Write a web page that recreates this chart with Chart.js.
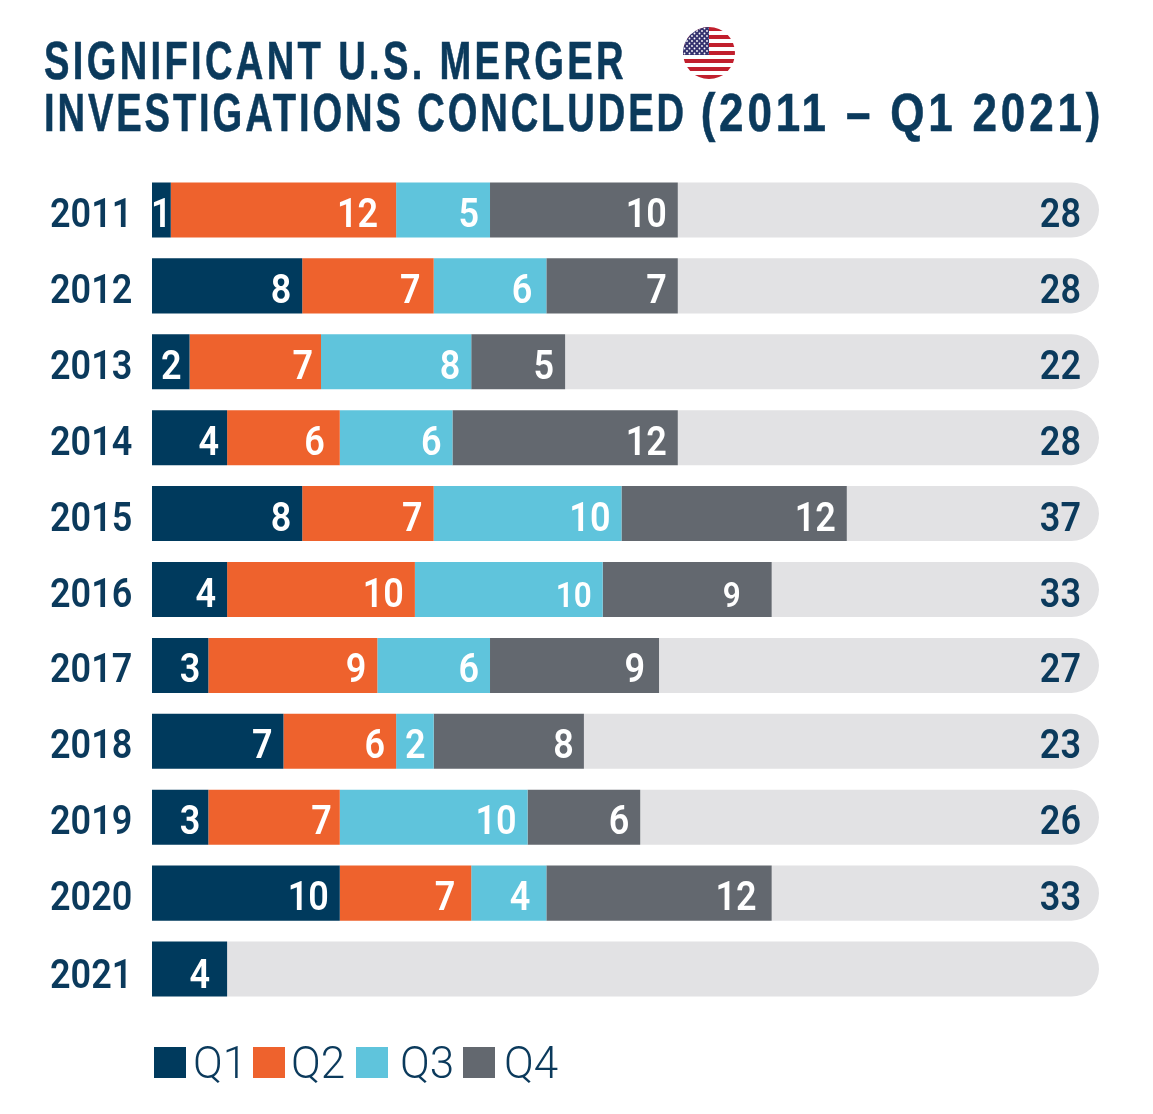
<!DOCTYPE html>
<html>
<head>
<meta charset="utf-8">
<title>Significant U.S. merger investigations concluded</title>
<script src="https://cdn.jsdelivr.net/npm/chart.js@4/dist/chart.umd.min.js"></script>
<style>
  html, body { margin: 0; padding: 0; background: #fff; }
  #page { position: relative; width: 1153px; height: 1114px; overflow: hidden; }
  #chart { position: absolute; left: 0; top: 0; }
  h1 {
    position: absolute; left: 44px; top: 35px; margin: 0;
    font: bold 53px/52px "Liberation Sans", sans-serif;
    letter-spacing: 4.6px; color: #0b3a5c; white-space: pre;
    -webkit-text-stroke: 0.6px #0b3a5c;
    transform: scaleX(0.72); transform-origin: 0 0;
  }
  h1 .tight { letter-spacing: 4px; }
  h1 .wide { display: inline-block; transform: scaleX(1.153); transform-origin: 0 0; }
  #flag { position: absolute; left: 683px; top: 27px; }
  #legend { position: absolute; left: 154px; top: 1040px; height: 44px; }
  #legend span { position: absolute; top: 1px; font: 300 44px/44px Roboto, sans-serif; color: #0b3a5c; white-space: nowrap; }
  #legend i { position: absolute; top: 7px; width: 32px; height: 31px; }
</style>
</head>
<body>
<div id="page">
  <canvas id="chart" width="1153" height="1114"></canvas>
  <h1>SIGNIFICANT U.S. MERGER
<span class="tight">INVESTIGATIONS CONCLUDED </span><span class="wide">(2011 – Q1 2021)</span></h1>
  <svg id="flag" width="52" height="52" viewBox="0 0 52 52">
    <defs>
      <clipPath id="disc"><circle cx="26" cy="26" r="26"/></clipPath>
      <pattern id="stars" width="5" height="5" patternUnits="userSpaceOnUse">
        <circle cx="1.5" cy="1.5" r="0.9" fill="#fff"/>
        <circle cx="4" cy="4" r="0.9" fill="#fff"/>
      </pattern>
    </defs>
    <g clip-path="url(#disc)">
      <rect width="52" height="52" fill="#fff"/>
      <g id="stripes" fill="#c11f2d"></g>
      <rect width="26" height="28" fill="#35336f"/>
      <rect width="26" height="28" fill="url(#stars)"/>
    </g>
  </svg>
  <div id="legend"></div>
</div>
<script>
const years = ['2011', '2012', '2013', '2014', '2015', '2016', '2017', '2018', '2019', '2020', '2021'];
const q1 = [1, 8, 2, 4, 8, 4, 3, 7, 3, 10, 4];
const q2 = [12, 7, 7, 6, 7, 10, 9, 6, 7, 7, null];
const q3 = [5, 6, 8, 6, 10, 10, 6, 2, 10, 4, null];
const q4 = [10, 7, 5, 12, 12, 9, 9, 8, 6, 12, null];
const totals = [28, 28, 22, 28, 37, 33, 27, 23, 26, 33, null];
const quarters = ['Q1', 'Q2', 'Q3', 'Q4'];
const quarterColors = ['#003a5d', '#ee622d', '#5fc4dc', '#63686f'];
const trackLength = 50.43;

const NAVY = '#0b3a5c';

// grey pill behind each row is whatever is left of the track
const remainder = years.map((_, i) =>
  trackLength - [q1, q2, q3, q4].reduce((sum, q) => sum + (q[i] || 0), 0));

// hand placement of a few labels, keyed year:quarter index
const labelNudge = {
  '2011:1': -7, '2012:1': -2, '2012:2': -3, '2013:0': 3, '2013:1': 3, '2014:0': 3, '2014:1': -4,
  '2016:3': -20, '2017:0': 3, '2017:3': -3, '2018:2': 3, '2018:3': 1,
  '2019:0': 3, '2019:1': 3, '2020:1': -5, '2020:2': -5, '2020:3': -4, '2021:0': -6
};
const smallLabels = ['2016:2', '2016:3'];

// the digits in the original are tall and slightly condensed
function drawDigits(ctx, text, x, y, align, color, size = 40) {
  ctx.save();
  ctx.translate(x, y);
  ctx.scale(0.9, 1);
  ctx.font = `600 ${size}px Roboto, sans-serif`;
  ctx.textBaseline = 'alphabetic';
  ctx.textAlign = align;
  ctx.fillStyle = color;
  ctx.fillText(text, 0, 14);
  ctx.restore();
}

const barLabels = {
  id: 'barLabels',
  afterDatasetsDraw(chart) {
    const ctx = chart.ctx;
    const yScale = chart.scales.y;
    years.forEach((year, i) => {
      const drop = year === '2021' ? 5 : 3;
      drawDigits(ctx, year, 50, yScale.getPixelForTick(i) + drop, 'left', NAVY);
    });
    [q1, q2, q3, q4].forEach((values, d) => {
      chart.getDatasetMeta(d).data.forEach((bar, i) => {
        if (values[i] == null) return;
        const key = years[i] + ':' + d;
        const narrow = bar.x - bar.base < 25;
        const x = (narrow ? (bar.x + bar.base) / 2 : bar.x - 11) + (labelNudge[key] || 0);
        const size = smallLabels.includes(key) ? 35 : 40;
        const drop = years[i] === '2021' ? 5 : 3;
        drawDigits(ctx, String(values[i]), x, bar.y + drop, narrow ? 'center' : 'right', '#fff', size);
      });
    });
    chart.getDatasetMeta(4).data.forEach((bar, i) => {
      if (totals[i] == null) return;
      drawDigits(ctx, String(totals[i]), bar.x - 18, bar.y + 3, 'right', NAVY);
    });
  }
};

new Chart(document.getElementById('chart'), {
  type: 'bar',
  plugins: [barLabels],
  data: {
    labels: years,
    datasets: [
      ...[q1, q2, q3, q4].map((values, d) => ({
        label: quarters[d],
        data: values,
        backgroundColor: quarterColors[d]
      })),
      {
        label: 'track',
        data: remainder,
        backgroundColor: '#e2e2e4',
        borderRadius: { topRight: 27.5, bottomRight: 27.5 },
        borderSkipped: false
      }
    ]
  },
  options: {
    indexAxis: 'y',
    responsive: false,
    animation: false,
    devicePixelRatio: 1,
    barPercentage: 0.725,
    categoryPercentage: 1,
    layout: { padding: { left: 50, right: 54, top: 172, bottom: 107 } },
    plugins: {
      legend: { display: false },
      title: { display: false },
      tooltip: { enabled: false }
    },
    scales: {
      x: { stacked: true, display: false, min: 0, max: trackLength },
      y: {
        stacked: true,
        afterFit(scale) { scale.width = 102; },
        grid: { display: false },
        border: { display: false },
        ticks: { display: false }
      }
    }
  }
});

// legend sits at uneven gaps in the original
const legendSwatchLeft = [0, 99, 202, 309];
const legendTextLeft = [39, 137, 246, 350];
const legend = document.getElementById('legend');
quarters.forEach((q, d) => {
  const box = document.createElement('i');
  box.style.left = legendSwatchLeft[d] + 'px';
  box.style.background = quarterColors[d];
  const text = document.createElement('span');
  text.style.left = legendTextLeft[d] + 'px';
  text.textContent = q;
  legend.append(box, text);
});

// flag stripes
const stripes = document.getElementById('stripes');
for (let i = 0; i < 13; i += 2) {
  const r = document.createElementNS('http://www.w3.org/2000/svg', 'rect');
  r.setAttribute('y', i * 4);
  r.setAttribute('width', 52);
  r.setAttribute('height', 4);
  stripes.appendChild(r);
}
</script>
</body>
</html>
